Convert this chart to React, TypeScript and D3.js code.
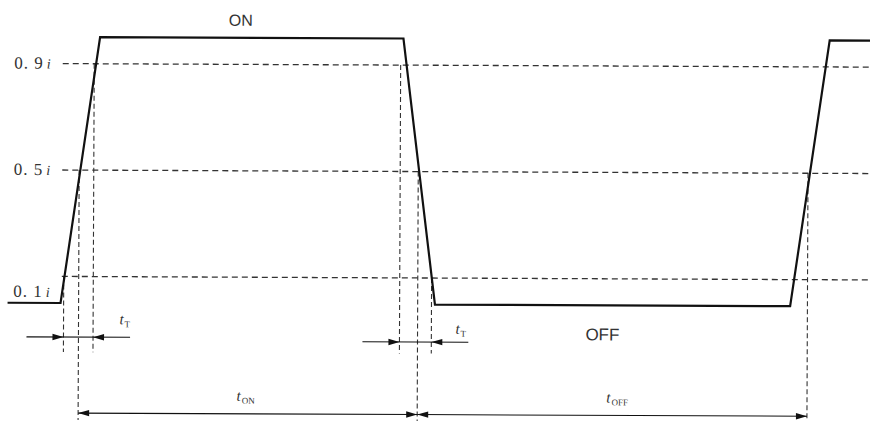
import React from "react";
import * as d3 from "d3";

// Waveform (time in arbitrary units, level as fraction of full current i)
const waveT = [-1.38, 0, 1.0, 8.9, 9.75, 19.0, 20.0, 21.1];
const waveLevel = [0, 0, 1, 1, 0, 0, 1, 1];

// Threshold levels and their labels
const thresholdLevels = [0.9, 0.5, 0.1];
const thresholdLabels = ["0. 9", "0. 5", "0. 1"];

// Vertical marker lines (time, level they start from, long = reaches tON/tOFF row)
const markerT = [0.08, 0.47, 0.85, 8.83, 9.3, 9.66, 19.45];
const markerLevel = [0.1, 0.5, 0.9, 0.9, 0.5, 0.1, 0.5];
const markerLong = [false, true, false, false, true, false, true];

// tT dimension pairs (start time, end time)
const tTStart = [0.08, 8.83];
const tTEnd = [0.85, 9.66];

// tON / tOFF spans
const spanStart = [0.47, 9.3];
const spanEnd = [9.3, 19.45];
const spanSub = ["ON", "OFF"];

const W = 870;
const H = 421;

export default function App() {
  const x = d3.scaleLinear().domain([0, 20]).range([61, 829]);
  const y = d3.scaleLinear().domain([0, 1]).range([303, 37]);

  const line = d3
    .line<number>()
    .x((_, i) => x(waveT[i]))
    .y((d) => y(d));

  const tTRowY = [337, 340.5];
  const tTLabelX = [120, 456];
  const tTLabelY = [324, 332];
  const spanRowY = 413;
  const spanLabelShift = [-2, 5];
  const shortEnd = 352;
  const longEnd = 420;
  const ink = "#111";
  const dashInk = "#333";

  const arrow = (tipX: number, yy: number, dir: number, key: string) => {
    const L = 11;
    const hw = 3.2;
    return (
      <path
        key={key}
        d={`M${tipX},${yy} L${tipX - dir * L},${yy - hw} L${tipX - dir * L},${yy + hw} Z`}
        fill={ink}
      />
    );
  };

  return (
    <svg
      width={W}
      height={H}
      style={{ position: "absolute", left: 0, top: 0, background: "#fff" }}
      fontFamily="'Liberation Serif', serif"
    >
      <g transform="rotate(0.25, 60, 200)">
        {/* threshold dashed lines */}
        {thresholdLevels.map((lv, i) => (
          <line
            key={"th" + i}
            x1={x(0.03)}
            x2={W + 5}
            y1={y(lv)}
            y2={y(lv)}
            stroke={dashInk}
            strokeWidth={1.3}
            strokeDasharray="6,4"
          />
        ))}
        {/* threshold labels */}
        {thresholdLabels.map((lab, i) => {
          const last = i === thresholdLabels.length - 1;
          const by = last ? y(0) - 6 : y(thresholdLevels[i]) + 5;
          return (
            <text
              key={"tl" + i}
              x={51}
              y={by}
              textAnchor="end"
              fontSize={17}
              fill="#333"
              letterSpacing={1}
            >
              {lab}
              <tspan fontStyle="italic" fontSize={14} dx={3}>
                i
              </tspan>
            </text>
          );
        })}
        {/* vertical marker dashed lines */}
        {markerT.map((t, i) => (
          <line
            key={"mk" + i}
            x1={x(t)}
            x2={x(t)}
            y1={y(markerLevel[i])}
            y2={markerLong[i] ? longEnd : shortEnd}
            stroke={dashInk}
            strokeWidth={1.1}
            strokeDasharray="5,3"
          />
        ))}
        {/* waveform */}
        <path d={line(waveLevel) || ""} fill="none" stroke={ink} strokeWidth={2.2} strokeLinejoin="miter" />

        {/* tT dimensions */}
        {tTStart.map((t0, i) => {
          const x0 = x(t0);
          const x1 = x(tTEnd[i]);
          const yy = tTRowY[i];
          return (
            <g key={"tt" + i}>
              <line x1={x0 - 37} x2={x1 + 37} y1={yy} y2={yy} stroke={ink} strokeWidth={1.1} />
              {arrow(x0, yy, 1, "a1")}
              {arrow(x1, yy, -1, "a2")}
              <text x={tTLabelX[i]} y={tTLabelY[i]} fontSize={15} fontStyle="italic" fill="#333">
                t
                <tspan fontStyle="normal" fontSize={9} dy={3} dx={1}>
                  T
                </tspan>
              </text>
            </g>
          );
        })}

        {/* tON / tOFF spans */}
        {spanStart.map((t0, i) => {
          const x0 = x(t0);
          const x1 = x(spanEnd[i]);
          return (
            <g key={"sp" + i}>
              <line x1={x0} x2={x1} y1={spanRowY} y2={spanRowY} stroke={ink} strokeWidth={1.1} />
              {arrow(x0, spanRowY, -1, "b1")}
              {arrow(x1, spanRowY, 1, "b2")}
              <text
                x={(x0 + x1) / 2 + spanLabelShift[i]}
                y={spanRowY - 13}
                fontSize={15}
                fontStyle="italic"
                fill="#333"
                textAnchor="middle"
              >
                t
                <tspan fontStyle="normal" fontSize={9} dy={3} dx={1}>
                  {spanSub[i]}
                </tspan>
              </text>
            </g>
          );
        })}

        {/* state labels */}
        <text
          x={(x(1.0) + x(8.9)) / 2 - 11}
          y={25}
          fontSize={16}
          fill="#333"
          textAnchor="middle"
          fontFamily="'Liberation Sans', sans-serif"
        >
          ON
        </text>
        <text
          x={(x(9.75) + x(19.0)) / 2 - 10}
          y={338}
          fontSize={17}
          fill="#333"
          textAnchor="middle"
          fontFamily="'Liberation Sans', sans-serif"
        >
          OFF
        </text>
      </g>
    </svg>
  );
}
